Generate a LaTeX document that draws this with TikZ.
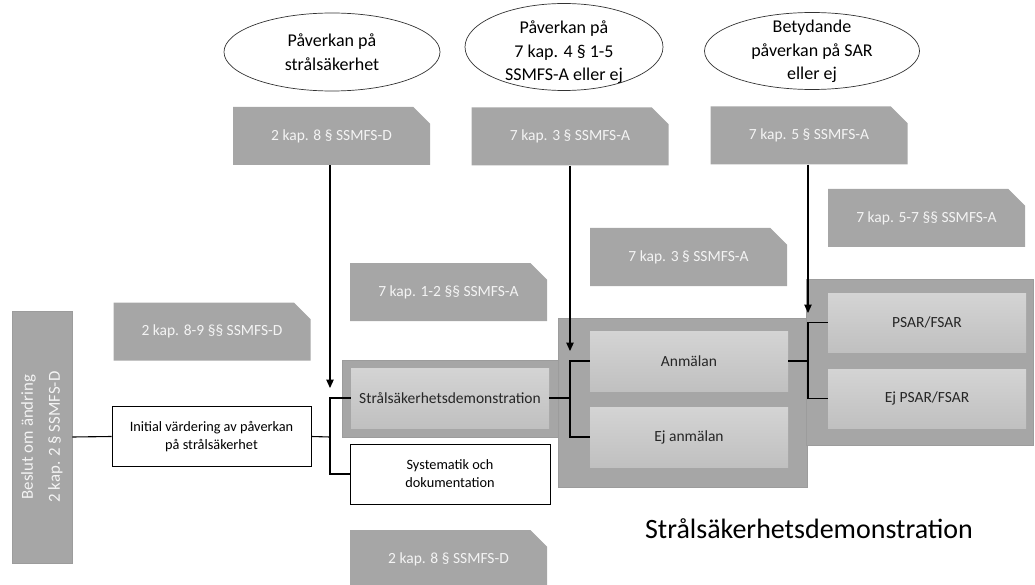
\documentclass[tikz,border=0pt]{standalone}
\usepackage{fontspec}
\setmainfont{Carlito}
\usetikzlibrary{arrows.meta,shapes.geometric,shapes.misc}

\definecolor{lawgray}{HTML}{A6A6A6}
\definecolor{framegray}{HTML}{A6A6A6}
\definecolor{frameedge}{HTML}{9C9C9C}
\definecolor{innertop}{HTML}{D4D4D4}
\definecolor{innerbot}{HTML}{C0C0C0}
\definecolor{darktext}{HTML}{262626}
\definecolor{lighttext}{HTML}{F4F4F4}

\tikzset{
  lawbox/.style={chamfered rectangle, chamfered rectangle corners=north east,
    chamfered rectangle xsep=10pt, chamfered rectangle ysep=10pt,
    fill=lawgray, draw=none, minimum width=197pt, minimum height=58pt,
    inner sep=0pt, text=lighttext, font=\fontsize{15.5}{18}\selectfont},
  frame/.style={rectangle, fill=framegray, draw=frameedge, line width=0.4pt, inner sep=0pt},
  innerbox/.style={rectangle, top color=innertop, bottom color=innerbot, draw=none,
    minimum width=198pt, minimum height=60pt, inner sep=0pt, text=darktext,
    font=\fontsize{15.5}{18}\selectfont},
  whitebox/.style={rectangle, draw=black, line width=0.9pt, fill=white, inner sep=0pt,
    minimum height=60pt, align=center, text=black, font=\fontsize{14.3}{18}\selectfont},
  question/.style={ellipse, draw=black!80, line width=0.7pt, inner sep=0pt},
  questiontext/.style={inner sep=0pt, align=center, text=black,
    font=\fontsize{18}{23.5}\selectfont},
  conn/.style={line width=1.1pt, draw=black},
  arr/.style={conn, -{Triangle[width=7.5pt,length=8.5pt]}},
}

\begin{document}
\begin{tikzpicture}[x=1pt, y=-1pt]
\useasboundingbox (0,0) rectangle (1035,585);

% grey frames behind the decision groups
\node[frame, minimum width=216pt, minimum height=77pt] (frameS) at (450,398.5) {};
\node[frame, minimum width=249pt, minimum height=169pt] (frameA) at (682.5,402.5) {};
\node[frame, minimum width=227pt, minimum height=166pt] (frameP) at (919.5,362) {};

% starting decision, written bottom to top
\node[rectangle, fill=lawgray, draw=frameedge, line width=0.6pt, rotate=90,
      minimum width=252pt, minimum height=60pt, inner sep=0pt, align=center,
      text=lighttext, font=\fontsize{16.8}{27}\selectfont] (L) at (42,437)
      {Beslut om ändring\\2 kap. 2 § SSMFS-D};

% process boxes
\node[whitebox, minimum width=199pt] (init) at (211.5,436.5)
      {Initial värdering av påverkan\\på strålsäkerhet};
\node[innerbox] (strin) at (450,398) {Strålsäkerhetsdemonstration};
\node[whitebox, minimum width=200pt] (sys) at (450,474) {Systematik och\\dokumentation};
\node[innerbox] (anm) at (689,361) {Anmälan};
\node[innerbox] (ejanm) at (689,437) {Ej anmälan};
\node[innerbox, minimum height=59pt] (psar) at (927,322.5) {PSAR/FSAR};
\node[innerbox, minimum height=59pt] (ejpsar) at (927,398.5) {Ej PSAR/FSAR};

% legal references
\node[lawbox] (lawA) at (331.5,136) {2 kap. 8 § SSMFS-D};
\node[lawbox] (lawB) at (570,136.5) {7 kap. 3 § SSMFS-A};
\node[lawbox] (lawC) at (809,135.5) {7 kap. 5 § SSMFS-A};
\node[lawbox] (lawD) at (926.5,218) {7 kap. 5-7 §§ SSMFS-A};
\node[lawbox] (lawE) at (688.5,257) {7 kap. 3 § SSMFS-A};
\node[lawbox] (lawF) at (448.5,292) {7 kap. 1-2 §§ SSMFS-A};
\node[lawbox] (lawG) at (212,331.5) {2 kap. 8-9 §§ SSMFS-D};
\node[lawbox] (lawH) at (448.5,559) {2 kap. 8 § SSMFS-D};

% questions asked at each step: outline and wording
\node[question, minimum width=216pt, minimum height=78pt] (q1) at (332,52) {};
\node[question, minimum width=198pt, minimum height=87pt] (q2) at (564,47) {};
\node[question, minimum width=215pt, minimum height=77pt] (q3) at (812,51) {};
\node[questiontext] (q1t) at (332,52) {Påverkan på\\strålsäkerhet};
\node[questiontext] (q2t) at (564,52.5) {Påverkan på\\7 kap. 4 § 1-5\\SSMFS-A eller ej};
\node[questiontext] (q3t) at (812,51.5) {Betydande\\påverkan på SAR\\eller ej};

% title
\node[anchor=base, inner sep=0pt, text=black, font=\fontsize{28}{32}\selectfont]
      (title) at (809,538) {Strålsäkerhetsdemonstration};

% branching points
\coordinate (j1) at (330,437);
\coordinate (j2) at (570,398);
\coordinate (j3) at (808,361);

% arrow tips
\coordinate (tA) at (330,388);
\coordinate (tB) at (570,351);
\coordinate (tC) at (808,313);

% connectors
\draw[conn] (L.south) -- (init.west);
\draw[conn] (init.east) -- (j1);
\draw[conn] (j1) |- (strin.west);
\draw[conn] (j1) |- (sys.west);
\draw[conn] (strin.east) -- (j2);
\draw[conn] (j2) |- (anm.west);
\draw[conn] (j2) |- (ejanm.west);
\draw[conn] (anm.east) -- (j3);
\draw[conn] (j3) |- (psar.west);
\draw[conn] (j3) |- (ejpsar.west);

\draw[arr] (lawA.south -| tA) -- (tA);
\draw[arr] (lawB.south -| tB) -- (tB);
\draw[arr] (lawC.south -| tC) -- (tC);
\end{tikzpicture}
\end{document}
